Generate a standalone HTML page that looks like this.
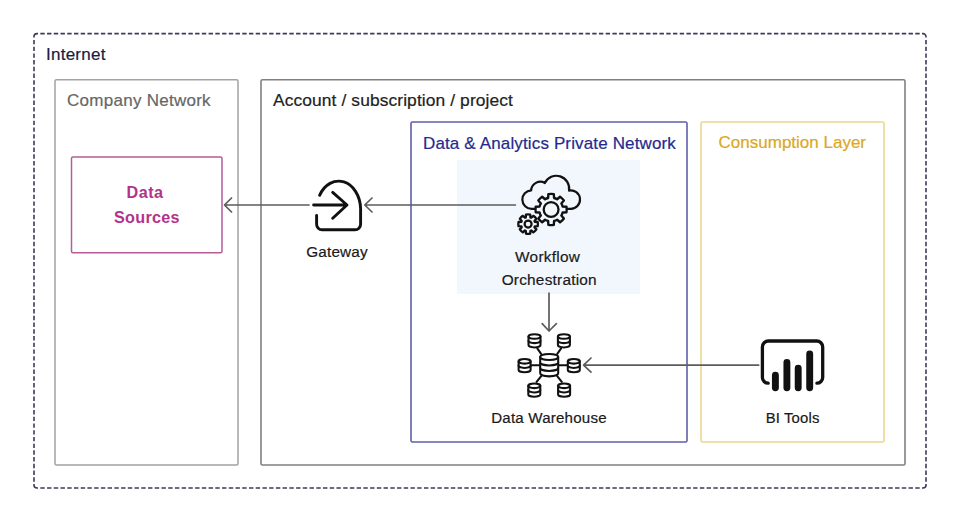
<!DOCTYPE html>
<html><head><meta charset="utf-8"><style>
html,body{margin:0;padding:0;background:#fff;width:960px;height:522px;overflow:hidden}
svg{position:absolute;left:0;top:0;display:block}
text{font-family:"Liberation Sans", sans-serif;stroke-width:0.2px}
</style></head><body>
<svg width="960" height="522" viewBox="0 0 960 522">
<rect x="0" y="0" width="960" height="522" fill="#fff"/>
<!-- Internet dashed -->
<g fill="none" stroke="#3b3b5e" stroke-width="1.6"><path d="M34,37.6 V36.6 A3,3 0 0 1 37,33.6 H38.0"/><path d="M922.0,33.6 H923 A3,3 0 0 1 926,36.6 V37.6"/><path d="M926,484.0 V485 A3,3 0 0 1 923,488 H922.0"/><path d="M38.0,488 H37 A3,3 0 0 1 34,485 V484.0"/><path d="M40.330,33.6H919.670M40.330,488H919.670" stroke-dasharray="4.4 2.3303"/><path d="M34,39.928V481.672M926,39.928V481.672" stroke-dasharray="4.4 2.3284"/></g>
<!-- Company network -->
<rect x="55" y="79.8" width="183" height="385.2" rx="1.5" fill="none" stroke="#a3a3a3" stroke-width="1.5"/>
<!-- Account -->
<rect x="261" y="79.8" width="644" height="385.2" rx="1.5" fill="none" stroke="#808080" stroke-width="1.6"/>
<!-- D&A -->
<rect x="411" y="122" width="276" height="320" rx="1.5" fill="none" stroke="#5e5eaa" stroke-width="1.6"/>
<!-- Consumption -->
<rect x="701" y="122" width="183" height="320" rx="1.5" fill="none" stroke="#ecd88e" stroke-width="1.6"/>
<!-- Data sources -->
<rect x="71.5" y="157" width="150.5" height="95.8" rx="1.5" fill="none" stroke="#b65c96" stroke-width="1.5"/>
<!-- light blue -->
<rect x="457" y="160" width="183" height="134" fill="#f2f7fe"/>

<text x="46" y="60" font-size="17" letter-spacing="0.25" fill="#1b1b3f" stroke="#1b1b3f">Internet</text>
<text x="67" y="106.3" font-size="17" letter-spacing="0.27" fill="#666" stroke="#666">Company Network</text>
<text x="273" y="106" font-size="17.4" letter-spacing="0.1" fill="#222" stroke="#222">Account / subscription / project</text>
<text x="423" y="148.9" font-size="17" letter-spacing="0.14" fill="#262a8c" stroke="#262a8c" stroke-width="0.35">Data &amp; Analytics Private Network</text>
<text x="718.6" y="148.4" font-size="17" fill="#dba822" stroke="#dba822">Consumption Layer</text>
<text x="145" y="198" font-size="16.2" font-weight="bold" letter-spacing="0.5" fill="#b3338a" stroke="none" text-anchor="middle">Data</text>
<text x="146.9" y="223.3" font-size="16.2" font-weight="bold" letter-spacing="0.3" fill="#b3338a" stroke="none" text-anchor="middle">Sources</text>
<text x="337" y="256.75" font-size="15.3" letter-spacing="0.15" fill="#1a1a1a" stroke="#1a1a1a" text-anchor="middle">Gateway</text>
<text x="547.6" y="262.4" font-size="15.4" letter-spacing="0.25" fill="#1a1a1a" stroke="#1a1a1a" text-anchor="middle">Workflow</text>
<text x="549.25" y="285.2" font-size="15.4" letter-spacing="0.22" fill="#1a1a1a" stroke="#1a1a1a" text-anchor="middle">Orchestration</text>
<text x="549" y="423" font-size="15.1" letter-spacing="0.2" fill="#1a1a1a" stroke="#1a1a1a" text-anchor="middle">Data Warehouse</text>
<text x="792.6" y="422.7" font-size="14.9" letter-spacing="0.15" fill="#1a1a1a" stroke="#1a1a1a" text-anchor="middle">BI Tools</text>

<!-- arrows -->
<g fill="none" stroke="#5c5c5c" stroke-width="1.7" stroke-linecap="round" stroke-linejoin="round">
<path d="M309,205H225M231.5,198L224.5,205L231.5,212"/>
<path d="M515.4,205H365.5M372,198L364.8,205L372,212"/>
<path d="M549,293V330.5M542.2,323.6L549,331L556.4,323.6"/>
<path d="M758.7,365.1H584M591,358L583.6,365.1L591,372.2"/>
</g>

<!-- gateway icon -->
<g fill="none" stroke="#111" stroke-width="2.9" stroke-linecap="round" stroke-linejoin="round">
<path d="M313.6,205H346.5M332.7,192.4L347,205L332.7,218.3"/>
<path d="M319.6,195.3A22,28.5 0 0 1 360.6,208.5L360.6,224.2A5.6,5.6 0 0 1 355,229.8L322.2,229.8A5.6,5.6 0 0 1 316.6,224.2L316.6,215.4"/>
</g>

<!-- cloud gears icon -->
<g fill="none" stroke="#111" stroke-width="2.2" stroke-linecap="round" stroke-linejoin="round">
<path d="M531.60,208.80A9.2,9.2 0 0 1 531.12,190.41A9.2,9.2 0 0 1 544.88,183.02A12.8,12.8 0 0 1 569.05,190.57A9.2,9.2 0 1 1 570.80,208.80Z"/>
<path d="M548.12,197.98L548.39,194.14A15.6,15.6 0 0 1 553.81,194.14L554.08,197.98A11.9,11.9 0 0 1 557.14,199.25L560.05,196.72A15.6,15.6 0 0 1 563.88,200.55L561.35,203.46A11.9,11.9 0 0 1 562.62,206.52L566.46,206.79A15.6,15.6 0 0 1 566.46,212.21L562.62,212.48A11.9,11.9 0 0 1 561.35,215.54L563.88,218.45A15.6,15.6 0 0 1 560.05,222.28L557.14,219.75A11.9,11.9 0 0 1 554.08,221.02L553.81,224.86A15.6,15.6 0 0 1 548.39,224.86L548.12,221.02A11.9,11.9 0 0 1 545.06,219.75L542.15,222.28A15.6,15.6 0 0 1 538.32,218.45L540.85,215.54A11.9,11.9 0 0 1 539.58,212.48L535.74,212.21A15.6,15.6 0 0 1 535.74,206.79L539.58,206.52A11.9,11.9 0 0 1 540.85,203.46L538.32,200.55A15.6,15.6 0 0 1 542.15,196.72L545.06,199.25A11.9,11.9 0 0 1 548.12,197.98Z" fill="#f2f7fe" stroke-width="2.4"/>
<circle cx="551.1" cy="209.5" r="7.4" stroke-width="2.3"/>
<path d="M525.79,217.39L525.98,214.53A9.8,9.8 0 0 1 530.22,214.53L530.41,217.39A7.1,7.1 0 0 1 531.21,217.72L533.37,215.83A9.8,9.8 0 0 1 536.37,218.83L534.48,220.99A7.1,7.1 0 0 1 534.81,221.79L537.67,221.98A9.8,9.8 0 0 1 537.67,226.22L534.81,226.41A7.1,7.1 0 0 1 534.48,227.21L536.37,229.37A9.8,9.8 0 0 1 533.37,232.37L531.21,230.48A7.1,7.1 0 0 1 530.41,230.81L530.22,233.67A9.8,9.8 0 0 1 525.98,233.67L525.79,230.81A7.1,7.1 0 0 1 524.99,230.48L522.83,232.37A9.8,9.8 0 0 1 519.83,229.37L521.72,227.21A7.1,7.1 0 0 1 521.39,226.41L518.53,226.22A9.8,9.8 0 0 1 518.53,221.98L521.39,221.79A7.1,7.1 0 0 1 521.72,220.99L519.83,218.83A9.8,9.8 0 0 1 522.83,215.83L524.99,217.72A7.1,7.1 0 0 1 525.79,217.39Z" fill="#f2f7fe" stroke-width="2.3"/>
<circle cx="528.1" cy="224.1" r="3.5" stroke-width="2.2"/>
</g>

<!-- db hub icon -->
<g fill="#fff" stroke="#111" stroke-width="2.05" stroke-linecap="round" stroke-linejoin="round">
<path d="M530.6,365.3H540.2M558.2,365.3H567.8M537.3,348.4L541.1,353.8M561.1,348.4L557.3,353.8M541.2,376.1L536.6,381.9M557.2,376.1L561.8,381.9"/>
<path d="M540.2,357 L540.2,373.35 A9,3 0 0 0 558.2,373.35 L558.2,357"/><ellipse cx="549.2" cy="357" rx="9" ry="3"/><path d="M540.2,362.45 A9,3 0 0 0 558.2,362.45"/><path d="M540.2,367.9 A9,3 0 0 0 558.2,367.9"/><path d="M528.5,336.5 L528.5,345.1 A6,2.3 0 0 0 540.5,345.1 L540.5,336.5"/><ellipse cx="534.5" cy="336.5" rx="6" ry="2.3"/><path d="M528.5,340.8 A6,2.3 0 0 0 540.5,340.8"/><path d="M557.9,336.5 L557.9,345.1 A6,2.3 0 0 0 569.9,345.1 L569.9,336.5"/><ellipse cx="563.9" cy="336.5" rx="6" ry="2.3"/><path d="M557.9,340.8 A6,2.3 0 0 0 569.9,340.8"/><path d="M518.6,361.3 L518.6,369.90000000000003 A6,2.3 0 0 0 530.6,369.90000000000003 L530.6,361.3"/><ellipse cx="524.6" cy="361.3" rx="6" ry="2.3"/><path d="M518.6,365.6 A6,2.3 0 0 0 530.6,365.6"/><path d="M567.8,361.3 L567.8,369.90000000000003 A6,2.3 0 0 0 579.8,369.90000000000003 L579.8,361.3"/><ellipse cx="573.8" cy="361.3" rx="6" ry="2.3"/><path d="M567.8,365.6 A6,2.3 0 0 0 579.8,365.6"/><path d="M528.3,385.8 L528.3,394.40000000000003 A6,2.3 0 0 0 540.3,394.40000000000003 L540.3,385.8"/><ellipse cx="534.3" cy="385.8" rx="6" ry="2.3"/><path d="M528.3,390.1 A6,2.3 0 0 0 540.3,390.1"/><path d="M558.1,385.8 L558.1,394.40000000000003 A6,2.3 0 0 0 570.1,394.40000000000003 L570.1,385.8"/><ellipse cx="564.1" cy="385.8" rx="6" ry="2.3"/><path d="M558.1,390.1 A6,2.3 0 0 0 570.1,390.1"/>
</g>

<!-- BI icon -->
<g fill="none" stroke="#111" stroke-linecap="round" stroke-linejoin="round">
<path d="M768.2,383.2A5.8,5.8 0 0 1 762.4,377.4V347A6,6 0 0 1 768.4,341H816.7A6,6 0 0 1 822.7,347V377.4A5.8,5.8 0 0 1 816.9,383.2" stroke-width="3.3"/>
<path d="M775.4,375.2V387.8M786.9,362.4V387.8M798.2,368.2V387.8M809.7,354V387.8" stroke-width="6.9"/>
</g>
</svg>
</body></html>
